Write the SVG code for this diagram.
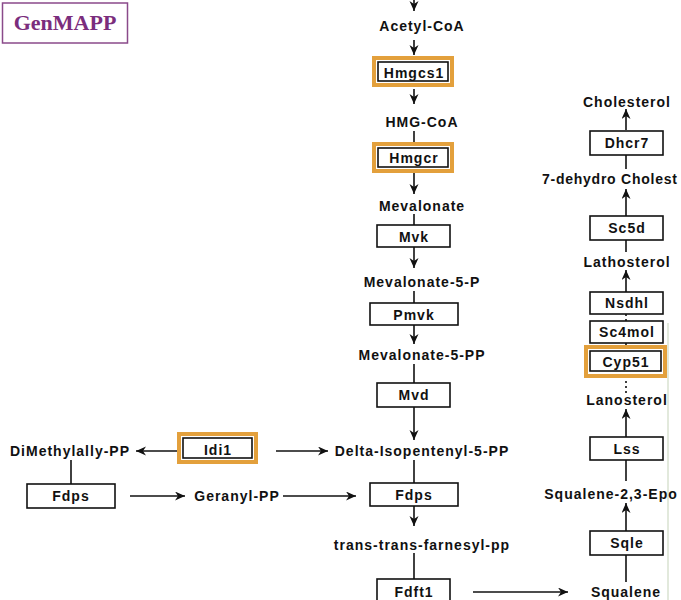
<svg xmlns="http://www.w3.org/2000/svg" width="681" height="600" viewBox="0 0 681 600">
<style>
.t{font-family:"Liberation Sans",Arial,sans-serif;font-weight:bold;font-size:14px;letter-spacing:1px;fill:#111;}
.m{text-anchor:middle;}
.box{fill:#fff;stroke:#111;stroke-width:1.6;}
.hl{fill:#fff;stroke:#e3a03c;stroke-width:4;}
.c{stroke:#111;stroke-width:1.6;fill:none;}
.a{marker-end:url(#ah);}
.d{stroke-dasharray:2 3;}
</style>
<defs>
<marker id="ah" markerUnits="userSpaceOnUse" markerWidth="12" markerHeight="10" refX="10" refY="4.5" orient="auto">
<path d="M0,0 L10,4.5 L0,9 L3,4.5 z" fill="#111"/>
</marker>
</defs>
<rect width="681" height="600" fill="#fff"/>
<line x1="668" y1="323" x2="668" y2="600" stroke="#e2e9dc" stroke-width="2"/>

<g id="genmapp">
<rect x="2.5" y="3" width="125" height="40" fill="#fff" stroke="#8a4a8a" stroke-width="1.5"/>
<text x="65" y="30" text-anchor="middle" font-family="'Liberation Serif','Times New Roman',serif" font-weight="bold" font-size="22" fill="#7b2d7d">GenMAPP</text>
</g>

<g id="connectors">
<path class="c a" d="M414,0 V11"/>
<path class="c a" d="M414,40 V55"/>
<path class="c a" d="M414,89 V104"/>
<path class="c" d="M414,131 V144"/>
<path class="c a" d="M414,172 V194"/>
<path class="c" d="M414,214 V225"/>
<path class="c a" d="M414,247 V268"/>
<path class="c" d="M414,291 V303"/>
<path class="c a" d="M414,325 V344"/>
<path class="c" d="M414,364 V383"/>
<path class="c a" d="M414,407 V440"/>
<path class="c" d="M414,460 V483"/>
<path class="c a" d="M414,506 V526"/>
<path class="c" d="M414,553 V579"/>
<path class="c a" d="M178,451 H136"/>
<path class="c a" d="M276,451 H328"/>
<path class="c" d="M71,460 V484"/>
<path class="c a" d="M130,496 H185"/>
<path class="c a" d="M283,496 H356"/>
<path class="c a" d="M473,592 H568"/>
<path class="c a" d="M626,130 V109"/>
<path class="c" d="M626,155 V169"/>
<path class="c a" d="M626,216 V189"/>
<path class="c" d="M626,240 V252"/>
<path class="c a" d="M626,292 V270"/>
<path class="c d" d="M626,314 V321"/>
<path class="c d" d="M626,343 V347"/>
<path class="c d" d="M626,376 V393"/>
<path class="c a" d="M626,437 V409"/>
<path class="c" d="M626,460 V481"/>
<path class="c a" d="M626,531 V503"/>
<path class="c" d="M626,555 V582"/>
</g>

<g id="acetyl-coa"><text class="t m" x="422" y="31">Acetyl-CoA</text></g>
<g id="hmgcs1"><rect class="hl" x="374" y="58" width="78" height="27"/><rect class="box" x="378" y="62" width="70" height="19"/><text class="t m" x="414" y="78">Hmgcs1</text></g>
<g id="hmg-coa"><text class="t m" x="422" y="127">HMG-CoA</text></g>
<g id="hmgcr"><rect class="hl" x="374" y="144" width="78" height="27"/><rect class="box" x="378" y="148" width="70" height="19"/><text class="t m" x="414" y="163">Hmgcr</text></g>
<g id="mevalonate"><text class="t m" x="422" y="211">Mevalonate</text></g>
<g id="mvk"><rect class="box" x="377" y="225" width="73" height="22"/><text class="t m" x="414" y="242">Mvk</text></g>
<g id="mevalonate-5-p"><text class="t m" x="422" y="287">Mevalonate-5-P</text></g>
<g id="pmvk"><rect class="box" x="370" y="303" width="88" height="22"/><text class="t m" x="414" y="320">Pmvk</text></g>
<g id="mevalonate-5-pp"><text class="t m" x="422" y="360">Mevalonate-5-PP</text></g>
<g id="mvd"><rect class="box" x="377" y="383" width="73" height="24"/><text class="t m" x="414" y="400">Mvd</text></g>
<g id="delta-isopentenyl"><text class="t m" x="422" y="456">Delta-Isopentenyl-5-PP</text></g>
<g id="fdps"><rect class="box" x="370" y="483" width="88" height="23"/><text class="t m" x="414" y="500">Fdps</text></g>
<g id="farnesyl-pp"><text class="t m" x="422" y="550">trans-trans-farnesyl-pp</text></g>
<g id="fdft1"><rect class="box" x="377" y="579" width="73" height="30"/><text class="t m" x="414" y="597">Fdft1</text></g>

<g id="dimethylallyl-pp"><text class="t m" x="70" y="456">DiMethylally-PP</text></g>
<g id="idi1"><rect class="hl" x="179" y="434" width="77" height="28"/><rect class="box" x="183" y="438" width="69" height="20"/><text class="t m" x="218" y="455">Idi1</text></g>
<g id="fdps-left"><rect class="box" x="27" y="484" width="88" height="24"/><text class="t m" x="71" y="501">Fdps</text></g>
<g id="geranyl-pp"><text class="t m" x="237" y="501">Geranyl-PP</text></g>
<g id="squalene"><text class="t m" x="626" y="597">Squalene</text></g>

<g id="cholesterol"><text class="t m" x="627" y="107">Cholesterol</text></g>
<g id="dhcr7"><rect class="box" x="590" y="131" width="73" height="24"/><text class="t m" x="627" y="148">Dhcr7</text></g>
<g id="dehydrocholesterol"><text class="t" x="542" y="184" style="letter-spacing:0.75px">7-dehydro Cholest</text></g>
<g id="sc5d"><rect class="box" x="590" y="216" width="73" height="24"/><text class="t m" x="627" y="233">Sc5d</text></g>
<g id="lathosterol"><text class="t m" x="627" y="267">Lathosterol</text></g>
<g id="nsdhl"><rect class="box" x="590" y="292" width="73" height="22"/><text class="t m" x="627" y="308">Nsdhl</text></g>
<g id="sc4mol"><rect class="box" x="590" y="321" width="73" height="22"/><text class="t m" x="627" y="337">Sc4mol</text></g>
<g id="cyp51"><rect class="hl" x="586" y="347" width="79" height="29"/><rect class="box" x="590" y="351" width="71" height="20"/><text class="t m" x="626" y="367">Cyp51</text></g>
<g id="lanosterol"><text class="t m" x="627" y="405">Lanosterol</text></g>
<g id="lss"><rect class="box" x="590" y="437" width="73" height="23"/><text class="t m" x="627" y="454">Lss</text></g>
<g id="squalene-epoxide"><text class="t m" x="611" y="499">Squalene-2,3-Epo</text></g>
<g id="sqle"><rect class="box" x="590" y="531" width="73" height="24"/><text class="t m" x="627" y="548">Sqle</text></g>
</svg>
